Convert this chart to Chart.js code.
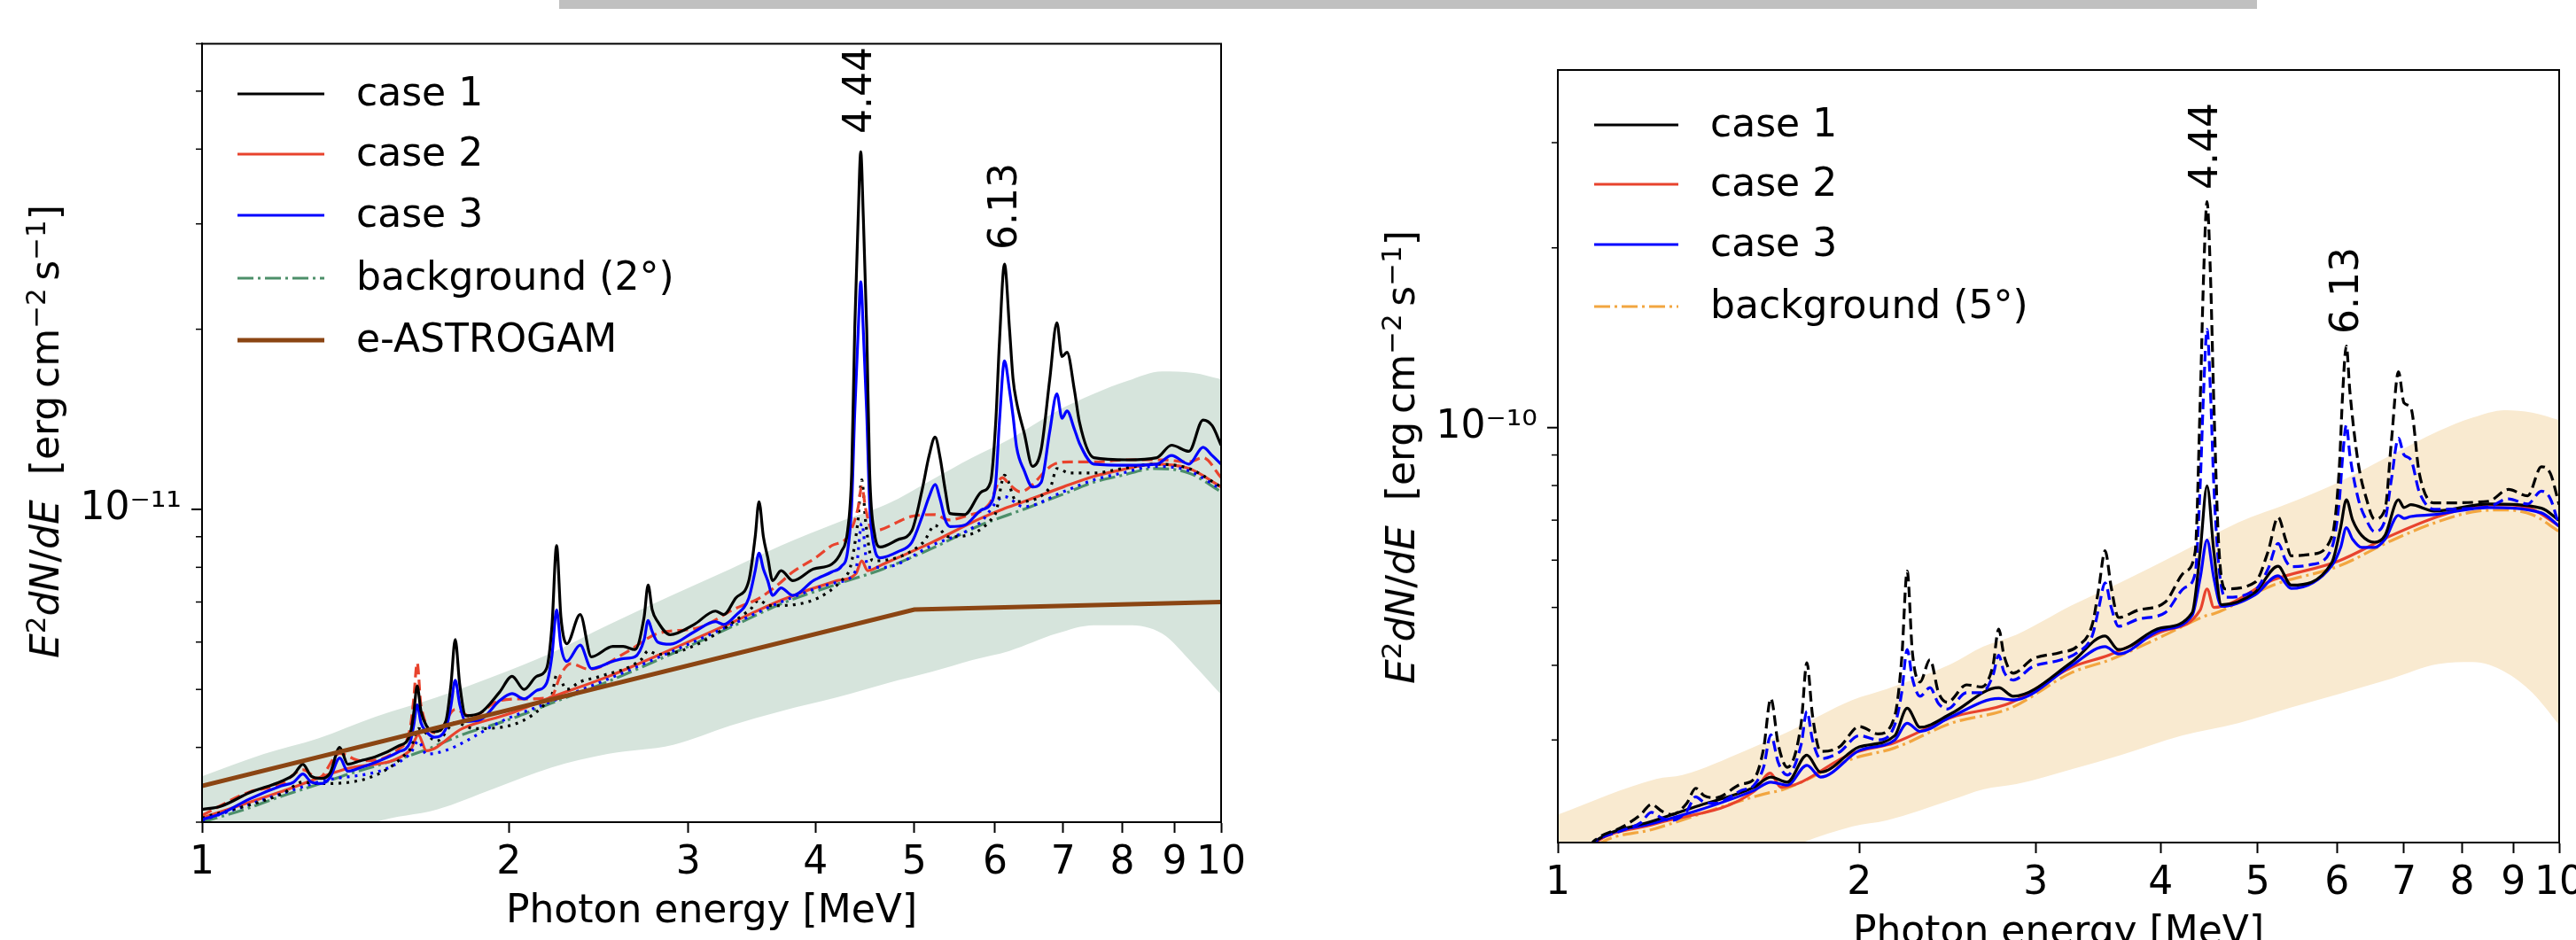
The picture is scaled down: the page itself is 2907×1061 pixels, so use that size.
<!DOCTYPE html>
<html><head><meta charset="utf-8">
<script src="https://cdn.jsdelivr.net/npm/chart.js@4.4.1/dist/chart.umd.min.js"></script>
<style>
html,body{margin:0;padding:0;width:2907px;height:1061px;overflow:hidden;background:#fff;font-family:'DejaVu Sans',sans-serif;}
canvas{position:absolute;top:0;}
#banner{position:absolute;left:631px;top:0;width:1916px;height:10px;background:#c0c0c0;}
.lbl{position:absolute;font-size:44px;line-height:1;white-space:nowrap;color:#000;transform:translate(-50%,-50%);}
.rot{transform:translate(-50%,-50%) rotate(-90deg);}
.lbl sup{font-size:0.7em;vertical-align:0.5em;line-height:0;}
</style></head>
<body>
<div id="banner"></div>
<canvas id="c1" width="1450" height="1061" style="left:0"></canvas>
<canvas id="c2" width="1500" height="1061" style="left:1450px"></canvas>
<div class="lbl rot" style="left:51px;top:487px"><i>E</i><sup>2</sup><i>dN</i>/<i>dE</i>&nbsp; [erg&#8201;cm<sup>−2</sup>&#8201;s<sup>−1</sup>]</div>
<div class="lbl rot" style="left:1581px;top:516px"><i>E</i><sup>2</sup><i>dN</i>/<i>dE</i>&nbsp; [erg&#8201;cm<sup>−2</sup>&#8201;s<sup>−1</sup>]</div>
<div class="lbl" style="left:803px;top:1026px">Photon energy [MeV]</div>
<div class="lbl" style="left:2323px;top:1050px">Photon energy [MeV]</div>
<div class="lbl rot" style="left:968px;top:102px">4.44</div>
<div class="lbl rot" style="left:1132px;top:233px">6.13</div>
<div class="lbl rot" style="left:2487px;top:165px">4.44</div>
<div class="lbl rot" style="left:2646px;top:328px">6.13</div>
<script>
// ---------- data ----------
const xTicks = [1,2,3,4,5,6,7,8,9,10];
const leftUnit = 1e-12;   // left panel values in 1e-12 erg cm^-2 s^-1
const rightUnit = 1e-11;  // right panel values in 1e-11 erg cm^-2 s^-1
const yTicksLeft = [3e-12,4e-12,5e-12,6e-12,7e-12,8e-12,9e-12,1e-11,2e-11,3e-11,4e-11,5e-11,6e-11];
const yTicksRight = [3e-11,4e-11,5e-11,6e-11,7e-11,8e-11,9e-11,1e-10,2e-10,3e-10];

// Left panel
const leftE = [1.000,1.044,1.113,1.196,1.230,1.256,1.280,1.310,1.335,1.365,
 1.390,1.430,1.481,1.558,1.600,1.613,1.626,1.640,1.660,1.690,
 1.735,1.755,1.772,1.790,1.815,1.876,1.959,2.015,2.070,2.130,
 2.178,2.205,2.228,2.250,2.280,2.350,2.410,2.530,2.590,2.660,
 2.715,2.740,2.765,2.800,2.880,3.040,3.190,3.250,3.340,3.440,
 3.490,3.520,3.555,3.590,3.630,3.700,3.800,3.980,4.150,4.240,
 4.300,4.340,4.370,4.405,4.430,4.455,4.490,4.520,4.570,4.630,
 4.820,4.970,5.090,5.170,5.240,5.300,5.360,5.420,5.600,5.820,
 5.940,6.010,6.060,6.130,6.200,6.250,6.300,6.410,6.530,6.660,
 6.790,6.900,6.980,7.060,7.180,7.260,7.500,8.100,8.650,8.940,
 9.300,9.600,9.800,10.00];
const case1Left = [3.15,3.19,3.36,3.51,3.60,3.75,3.58,3.55,3.62,4.00,
 3.75,3.80,3.86,4.02,4.20,4.55,5.07,4.60,4.35,4.25,
 4.43,5.10,6.06,5.10,4.52,4.57,4.95,5.26,5.00,5.26,
 5.42,6.40,8.70,6.60,5.96,6.67,5.67,5.90,5.90,5.83,
 6.60,7.47,6.80,6.49,6.17,6.42,6.76,6.67,7.11,7.60,
 9.00,10.3,9.00,8.31,7.60,7.90,7.60,7.95,8.10,8.50,
 9.20,11.5,20.0,31.0,39.6,31.0,20.0,11.5,9.10,8.65,
 8.90,9.20,10.8,12.3,13.2,12.2,10.8,9.84,9.80,10.7,
 11.1,14.0,19.0,25.7,20.0,16.5,15.1,13.4,11.8,12.6,
 16.5,20.5,18.0,18.3,15.8,14.0,12.2,12.1,12.2,12.8,
 12.5,14.1,13.8,12.8];
const case3Left = [3.03,3.10,3.28,3.45,3.50,3.61,3.50,3.48,3.56,3.84,
 3.65,3.70,3.78,3.93,4.08,4.35,4.71,4.40,4.25,4.16,
 4.30,4.70,5.18,4.72,4.42,4.45,4.79,4.92,4.82,4.98,
 5.12,5.70,6.79,5.90,5.57,5.93,5.42,5.57,5.63,5.67,
 6.05,6.52,6.25,6.00,5.95,6.24,6.49,6.42,6.65,7.11,
 7.90,8.45,7.95,7.60,7.18,7.39,7.18,7.60,7.86,8.03,
 8.50,10.2,14.5,20.0,24.0,20.0,14.5,10.2,8.60,8.30,
 8.50,8.80,9.73,10.5,11.0,10.4,9.62,9.36,9.41,9.98,
 10.2,11.1,14.0,17.7,15.8,14.3,12.7,11.6,10.9,11.1,
 13.5,15.6,14.2,14.6,13.6,12.9,11.9,11.85,11.9,12.3,
 11.9,12.7,12.3,11.9];
const case2DashLeftE = [1.000,1.113,1.196,1.256,1.300,1.365,1.430,1.558,1.600,1.613,
 1.626,1.640,1.700,1.772,1.837,1.959,2.070,2.200,2.250,2.300,
 2.400,2.600,2.800,3.070,3.340,3.520,3.680,3.800,4.000,4.150,
 4.300,4.400,4.440,4.480,4.550,4.970,5.240,5.400,5.600,5.920,
 6.100,6.200,6.350,6.860,7.100,7.500,8.100,8.750,9.300,9.600,
 10.00];
const case2DashLeft = [3.08,3.37,3.47,3.67,3.55,3.91,3.80,3.97,4.30,4.80,
 5.54,4.70,4.23,4.63,4.50,4.79,4.82,4.85,5.30,5.52,
 5.40,5.75,6.20,6.34,6.83,7.10,7.50,7.86,8.30,8.70,
 9.00,10.0,10.9,10.0,9.20,9.73,9.80,9.60,9.73,10.2,
 11.3,11.0,10.7,11.9,12.0,12.0,12.1,12.1,12.0,12.2,
 11.3];
const case1DotLeftE = [1.000,1.200,1.256,1.300,1.600,1.630,1.700,1.772,1.850,2.200,
 2.230,2.280,2.350,2.450,2.700,2.740,2.800,3.450,3.520,3.600,
 4.300,4.400,4.440,4.480,4.550,5.100,5.240,5.400,6.000,6.130,
 6.300,6.800,6.900,7.100,7.500,8.000,8.600,9.300,10.00];
const case1DotLeft = [3.05,3.35,3.50,3.48,3.97,4.30,4.10,4.40,4.30,4.85,
 5.30,5.00,5.15,5.25,5.62,5.80,5.72,6.80,7.05,6.90,
 7.80,9.50,11.2,9.50,8.20,8.80,9.40,9.00,9.80,11.4,
 10.3,10.9,11.7,11.5,11.5,11.7,11.9,11.7,10.9];
const case3DotLeftE = [1.000,1.300,1.600,1.630,1.660,2.000,2.200,2.500,2.900,3.300,
 3.700,4.200,4.380,4.440,4.500,4.660,5.200,5.800,6.130,6.400,
 7.000,7.500,8.000,8.600,9.300,10.00];
const case3DotLeft = [3.02,3.50,3.90,4.10,3.90,4.48,4.77,5.20,5.80,6.40,
 7.00,7.55,7.90,9.47,8.00,8.00,8.70,9.50,10.5,10.1,
 10.7,11.2,11.5,11.8,11.6,10.8];
const case2LeftE = [1.000,1.200,1.400,1.600,1.630,1.660,1.800,2.000,2.200,2.500,
 2.900,3.300,3.700,4.200,4.380,4.440,4.500,4.660,5.200,5.800,
 6.100,6.400,7.000,7.500,8.000,8.600,9.300,10.00];
const case2Left = [3.05,3.38,3.70,3.95,4.20,3.95,4.30,4.55,4.85,5.25,
 5.85,6.45,7.05,7.60,7.80,8.20,7.90,8.10,8.80,9.65,
 10.0,10.3,10.9,11.35,11.65,11.9,11.7,10.9];
const bgLeftE = [1,1.1,1.2,1.3,1.4,1.5,1.65,1.8,2.0,2.2,2.5,2.9,3.3,3.7,4.2,4.66,5.2,5.8,6.4,7.0,7.5,8.0,8.6,9.3,10];
const bgLeft = [3.0,3.15,3.32,3.47,3.62,3.75,3.95,4.2,4.45,4.74,5.15,5.75,6.35,6.95,7.5,7.95,8.6,9.4,10.0,10.6,11.1,11.4,11.7,11.5,10.7];
const astroE = [1,5,10];
const astro = [3.45,6.8,7.0];
const bandLeftE = [1,1.15,1.3,1.48,1.7,1.93,2.2,2.5,2.9,3.3,3.7,4.2,4.7,5.2,5.7,6.2,6.9,7.5,8.1,8.75,9.4,10];
const bandLeftHi = [3.58,3.9,4.14,4.5,4.85,5.25,5.75,6.4,7.2,7.95,8.7,9.5,10.2,11.2,12.2,13.1,14.6,15.6,16.4,17.0,16.9,16.5];
const bandLeftLo = [2.2,2.45,2.7,3.0,3.15,3.41,3.7,3.9,4.04,4.35,4.6,4.85,5.12,5.35,5.6,5.8,6.2,6.4,6.4,6.2,5.5,4.9];

// Right panel
const dashRightE = [1.050,1.090,1.163,1.210,1.240,1.270,1.300,1.345,1.373,1.400,
 1.436,1.525,1.570,1.605,1.632,1.660,1.695,1.750,1.773,1.796,
 1.830,1.910,2.000,2.090,2.170,2.205,2.233,2.260,2.300,2.353,
 2.400,2.450,2.560,2.650,2.720,2.756,2.790,2.850,2.980,3.170,
 3.300,3.420,3.470,3.520,3.570,3.630,3.800,4.040,4.230,4.330,
 4.380,4.415,4.450,4.485,4.520,4.570,4.640,4.970,5.120,5.240,
 5.330,5.400,5.660,5.930,6.030,6.080,6.130,6.180,6.300,6.420,
 6.540,6.700,6.800,6.910,7.000,7.110,7.250,7.500,8.500,8.900,
 9.300,9.600,9.800,10.00];
const case1DashRight = [1.90,2.04,2.15,2.25,2.34,2.28,2.25,2.35,2.49,2.42,
 2.40,2.53,2.58,2.90,3.52,2.95,2.70,3.20,4.04,3.30,
 2.87,2.92,3.16,3.07,3.29,4.10,5.75,4.20,3.75,4.09,
 3.60,3.47,3.71,3.68,4.00,4.60,4.15,3.88,4.10,4.20,
 4.30,4.70,5.40,6.22,5.40,4.81,4.95,5.10,5.74,6.20,
 11.0,18.0,23.9,18.0,11.0,6.40,5.37,5.51,6.20,7.08,
 6.50,6.10,6.14,6.57,8.50,11.5,13.7,11.5,8.72,7.60,
 7.03,7.30,9.50,12.4,11.0,10.8,8.38,7.48,7.53,7.88,
 7.69,8.60,8.38,7.43];
const case3DashRight = [1.90,2.03,2.12,2.18,2.27,2.22,2.20,2.28,2.41,2.36,
 2.35,2.47,2.52,2.70,3.06,2.75,2.62,2.95,3.35,3.00,
 2.79,2.86,3.05,3.00,3.18,3.60,4.25,3.80,3.55,3.67,
 3.45,3.38,3.60,3.60,3.85,4.16,3.90,3.78,3.98,4.08,
 4.20,4.50,5.00,5.50,5.00,4.65,4.78,4.90,5.40,5.70,
 8.00,11.5,14.6,11.5,8.00,5.90,5.20,5.35,5.80,6.40,
 6.00,5.85,5.90,6.30,7.50,9.00,10.1,9.00,7.60,7.00,
 6.70,7.00,8.20,9.60,9.00,8.84,7.80,7.30,7.37,7.60,
 7.45,7.83,7.60,6.84];
const solidRightE = [1.050,1.090,1.250,1.373,1.570,1.632,1.695,1.773,1.830,2.000,
 2.170,2.233,2.300,2.470,2.756,2.850,3.260,3.520,3.630,4.000,
 4.300,4.380,4.450,4.520,4.600,4.970,5.240,5.400,5.930,6.050,
 6.130,6.220,6.350,6.540,6.700,6.910,7.000,7.110,7.500,8.500,
 9.600,10.00];
const case1Right = [1.90,2.03,2.20,2.32,2.50,2.60,2.55,2.83,2.65,2.92,
 3.05,3.39,3.15,3.32,3.67,3.55,4.05,4.48,4.25,4.62,
 4.90,6.20,7.99,6.20,5.05,5.30,5.86,5.45,5.95,6.80,
 7.57,7.00,6.60,6.43,6.60,7.57,7.35,7.43,7.25,7.45,
 7.33,6.99];
const case3Right = [1.90,2.03,2.18,2.28,2.47,2.55,2.52,2.72,2.60,2.88,
 3.00,3.20,3.10,3.28,3.52,3.50,4.00,4.30,4.18,4.58,
 4.85,5.60,6.48,5.60,5.02,5.25,5.65,5.38,5.88,6.30,
 6.80,6.50,6.30,6.30,6.50,7.13,7.05,7.10,7.15,7.35,
 7.20,6.84];
const bgRightE = [1.050,1.090,1.250,1.570,1.630,1.670,1.970,2.170,2.470,2.830,
 3.260,3.550,4.000,4.380,4.450,4.520,5.180,6.020,6.800,7.570,
 8.300,8.830,9.400,10.00];
const case2Right = [1.88,2.02,2.17,2.46,2.64,2.50,2.85,2.97,3.27,3.46,
 3.97,4.16,4.55,4.95,5.37,5.00,5.56,5.98,6.60,7.10,
 7.40,7.43,7.30,6.84];
const bgRight = [1.85,1.99,2.13,2.41,2.45,2.47,2.79,2.91,3.20,3.39,
 3.89,4.08,4.46,4.80,4.85,4.88,5.45,5.86,6.47,6.96,
 7.25,7.28,7.15,6.70];
const bandRightE = [1,1.254,1.332,1.54,1.695,1.97,2.13,2.47,2.66,2.87,3.26,3.65,4.2,4.78,5.4,6.02,6.8,7.57,8.2,8.83,9.4,10];
const bandRightHi = [2.25,2.58,2.62,2.88,3.09,3.5,3.65,4.02,4.3,4.5,5.04,5.51,6.2,6.94,7.5,8.1,9.0,9.86,10.4,10.7,10.6,10.3];
const bandRightLo = [1.2,1.45,1.55,1.8,1.97,2.15,2.2,2.38,2.48,2.53,2.68,2.83,3.05,3.2,3.4,3.58,3.8,4.02,4.05,3.9,3.6,3.18];

// ---------- styling ----------
const BLACK='#000000', RED='#e8432d', BLUE='#0000ff', GREEN='#4d8f6a', ORANGE='#f2a640', BROWN='#8B4513';
const GREENBAND='#d6e4dc', BEIGEBAND='#f9ead0';
const DASH=[12,6], DOT=[3,6], DASHDOT=[18,5,3,5];
Chart.defaults.font.family = "'DejaVu Sans'";

const pts = (E, V, unit) => E.map((e,i) => ({x:e, y:V[i]*unit}));
function line(label, E, V, unit, color, width, dash, order) {
  return {label, data: pts(E,V,unit), borderColor: color, backgroundColor: color,
    borderWidth: width, borderDash: dash, pointRadius: 0, fill: false,
    tension: 0.3, cubicInterpolationMode: 'monotone', order};
}
function band(E, hi, lo, unit, color) {
  return [
    {label:'bandHi', data: pts(E,hi,unit), borderColor:'rgba(0,0,0,0)', borderWidth:0, pointRadius:0,
     backgroundColor: color, fill: '+1', tension:0.3, cubicInterpolationMode:'monotone', order: 100},
    {label:'bandLo', data: pts(E,lo,unit), borderColor:'rgba(0,0,0,0)', borderWidth:0, pointRadius:0,
     fill: false, tension:0.3, cubicInterpolationMode:'monotone', order: 101}
  ];
}

function framePlugin(yTicks, major) {
  return {id:'frame', afterDraw(chart) {
    const {ctx, chartArea:a, scales:{y}} = chart;
    ctx.save();
    ctx.strokeStyle = '#000'; ctx.lineWidth = 2; ctx.setLineDash([]);
    ctx.strokeRect(a.left, a.top, a.right - a.left, a.bottom - a.top);
    yTicks.forEach(v => {
      const py = y.getPixelForValue(v);
      const len = v === major ? 12 : 7;
      ctx.lineWidth = v === major ? 2 : 1.5;
      ctx.beginPath(); ctx.moveTo(a.left - len, py); ctx.lineTo(a.left, py); ctx.stroke();
    });
    ctx.restore();
  }};
}
function legendPlugin(items, x0, x1, xt, ys) {
  return {id:'lg', afterDraw(chart) {
    const ctx = chart.ctx;
    ctx.save();
    items.forEach((it, i) => {
      ctx.strokeStyle = it.color; ctx.lineWidth = it.width; ctx.setLineDash(it.dash);
      ctx.beginPath(); ctx.moveTo(x0, ys[i]); ctx.lineTo(x1, ys[i]); ctx.stroke();
      ctx.setLineDash([]);
      ctx.fillStyle = '#000'; ctx.font = "44px 'DejaVu Sans'"; ctx.textBaseline = 'middle';
      ctx.fillText(it.label, xt, ys[i] + 2);
    });
    ctx.restore();
  }};
}

function scales(ymin, ymax, yTicks, major, majorLabel, yWidth, xHeight) {
  return {
    x: {type:'logarithmic', min:1, max:10,
      afterBuildTicks: s => { s.ticks = xTicks.map(v => ({value:v})); },
      afterFit: s => { s.height = xHeight; },
      ticks: {autoSkip:false, maxRotation:0, minRotation:0, color:'#000', padding:8,
        font:{size:44}, callback: v => String(v)},
      grid: {drawOnChartArea:false, tickLength:12, tickWidth:2, tickColor:'#000'},
      border: {color:'#000', width:2}},
    y: {type:'logarithmic', min:ymin, max:ymax,
      afterBuildTicks: s => { s.ticks = yTicks.map(v => ({value:v})); },
      afterFit: s => { s.width = yWidth; },
      ticks: {autoSkip:false, color:'#000', padding:23, font:{size:44},
        callback: v => (v === major ? majorLabel : '')},
      grid: {display:false, drawTicks:false},
      border: {display:true, color:'#000', width:2}}
  };
}
const baseOpts = {responsive:false, animation:false, devicePixelRatio:1, events:[],
  plugins:{legend:{display:false}, tooltip:{enabled:false}}};

// Left chart
new Chart(document.getElementById('c1'), {
  type:'line',
  data:{datasets:[
    line('case 1', leftE, case1Left, leftUnit, BLACK, 3.2, [], 1),
    line('case 3', leftE, case3Left, leftUnit, BLUE, 3.2, [], 2),
    line('case 2 dashed', case2DashLeftE, case2DashLeft, leftUnit, RED, 3.2, DASH, 3),
    line('case 1 dotted', case1DotLeftE, case1DotLeft, leftUnit, BLACK, 3.2, DOT, 4),
    line('case 3 dotted', case3DotLeftE, case3DotLeft, leftUnit, BLUE, 3.2, DOT, 5),
    line('case 2', case2LeftE, case2Left, leftUnit, RED, 3.2, [], 6),
    line('background (2°)', bgLeftE, bgLeft, leftUnit, GREEN, 3.2, DASHDOT, 7),
    Object.assign(line('e-ASTROGAM', astroE, astro, leftUnit, BROWN, 5, [], 0), {tension:0, cubicInterpolationMode:'default'}),
    ...band(bandLeftE, bandLeftHi, bandLeftLo, leftUnit, GREENBAND)
  ]},
  options: Object.assign({}, baseOpts, {
    layout:{padding:{left:0, top:43, right:72, bottom:0}},
    scales: scales(3e-12, 6e-11, yTicksLeft, 1e-11, '10⁻¹¹', 228, 133)
  }),
  plugins:[framePlugin(yTicksLeft, 1e-11), legendPlugin([
    {label:'case 1', color:BLACK, width:3, dash:[]},
    {label:'case 2', color:RED, width:3, dash:[]},
    {label:'case 3', color:BLUE, width:3, dash:[]},
    {label:'background (2°)', color:GREEN, width:3, dash:DASHDOT},
    {label:'e-ASTROGAM', color:BROWN, width:5, dash:[]}
  ], 268, 366, 402, [106, 174, 243, 314, 384])]
});

// Right chart
new Chart(document.getElementById('c2'), {
  type:'line',
  data:{datasets:[
    line('case 1 dashed', dashRightE, case1DashRight, rightUnit, BLACK, 3.2, DASH, 1),
    line('case 3 dashed', dashRightE, case3DashRight, rightUnit, BLUE, 3.2, DASH, 2),
    line('case 1', solidRightE, case1Right, rightUnit, BLACK, 3.2, [], 3),
    line('case 3', solidRightE, case3Right, rightUnit, BLUE, 3.2, [], 4),
    line('case 2', bgRightE, case2Right, rightUnit, RED, 3.2, [], 5),
    line('background (5°)', bgRightE, bgRight, rightUnit, ORANGE, 3.2, DASHDOT, 6),
    ...band(bandRightE, bandRightHi, bandRightLo, rightUnit, BEIGEBAND)
  ]},
  options: Object.assign({}, baseOpts, {
    layout:{padding:{left:0, top:79, right:62, bottom:0}},
    scales: scales(2.02e-11, 3.97e-10, yTicksRight, 1e-10, '10⁻¹⁰', 308, 110)
  }),
  plugins:[framePlugin(yTicksRight, 1e-10), legendPlugin([
    {label:'case 1', color:BLACK, width:3, dash:[]},
    {label:'case 2', color:RED, width:3, dash:[]},
    {label:'case 3', color:BLUE, width:3, dash:[]},
    {label:'background (5°)', color:ORANGE, width:3, dash:DASHDOT}
  ], 349, 444, 480, [141, 208, 276, 346])]
});
</script>
</body></html>
